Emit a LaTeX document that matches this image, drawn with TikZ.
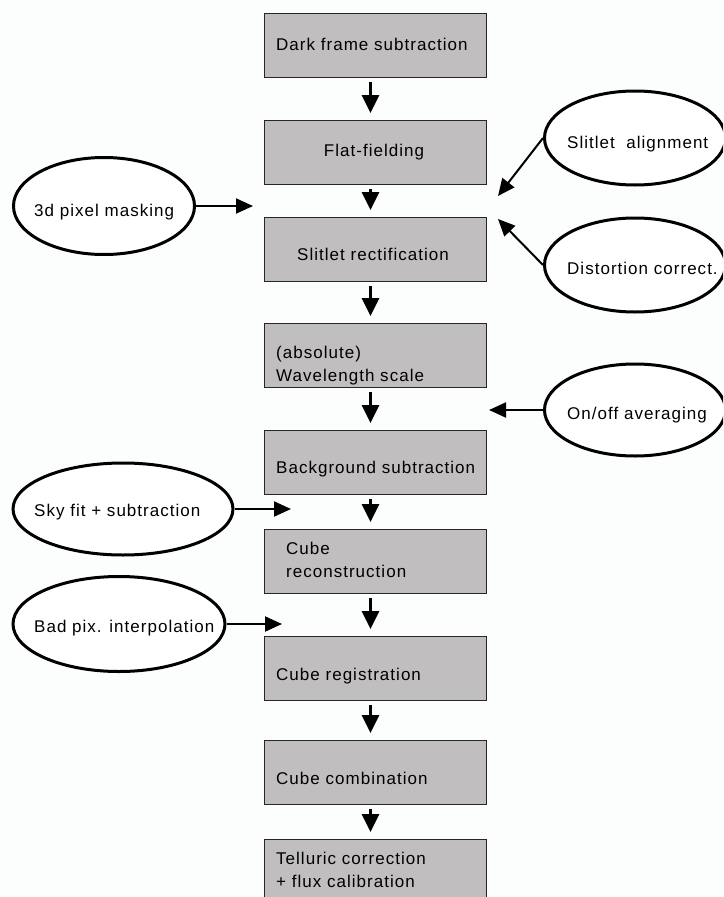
\documentclass[tikz,border=0pt]{standalone}
\usepackage{fontspec}
\setmainfont{Liberation Sans}[LetterSpace=6]
\usetikzlibrary{shapes.geometric,arrows.meta}
\definecolor{boxgray}{RGB}{192,190,191}
\definecolor{bgcol}{RGB}{252,254,254}
\begin{document}
\begin{tikzpicture}[x=1pt,y=-1pt,
  box/.style={draw=black!85, line width=1pt, fill=boxgray, minimum width=222pt, minimum height=64pt, inner sep=0pt, anchor=north west},
  lbl/.style={font=\fontsize{17}{20}\selectfont, inner sep=0pt},
  oval/.style={ellipse, draw=black, line width=3pt, fill=white, inner sep=0pt},
  flow/.style={line width=3pt, -{Triangle[width=17pt,length=18pt]}},
  side/.style={line width=2pt, -{Triangle[width=15pt,length=17pt]}}
]
\useasboundingbox (0,0) rectangle (723,897);
\clip (0,0) rectangle (723,897);
\fill[bgcol] (0,0) rectangle (723,897);

% process boxes
\node[box] (b1) at (264,13) {};
\node[box] (b2) at (264,120) {};
\node[box] (b3) at (264,217) {};
\node[box] (b4) at (264,323) {};
\node[box] (b5) at (264,430) {};
\node[box] (b6) at (264,529) {};
\node[box] (b7) at (264,636) {};
\node[box] (b8) at (264,740) {};
\node[box] (b9) at (264,839) {};

% box labels
\node[lbl, anchor=base west] (t1) at (276,50) {Dark frame subtraction};
\node[lbl, anchor=base] (t2) at (374,156) {Flat-fielding};
\node[lbl, anchor=base west] (t3) at (297,260) {Slitlet rectification};
\node[lbl, anchor=base west] (t4a) at (276,358) {(absolute)};
\node[lbl, anchor=base west] (t4b) at (276,381) {Wavelength scale};
\node[lbl, anchor=base west] (t5) at (276,473) {Background subtraction};
\node[lbl, anchor=base west] (t6a) at (286,554) {Cube};
\node[lbl, anchor=base west] (t6b) at (286,577) {reconstruction};
\node[lbl, anchor=base west] (t7) at (276,680) {Cube registration};
\node[lbl, anchor=base west] (t8) at (276,784) {Cube combination};
\node[lbl, anchor=base west] (t9a) at (276,864) {Telluric correction};
\node[lbl, anchor=base west] (t9b) at (276,887) {+ flux calibration};

% flow arrows
\foreach \a/\b in {b1/b2,b2/b3,b3/b4,b4/b5,b5/b6,b6/b7,b7/b8,b8/b9}
  \draw[flow] ([shift={(-5pt,-4pt)}]\a.south) -- ([shift={(-5pt,7pt)}]\b.north);

% ellipses
\node[oval, minimum width=181pt, minimum height=97pt] (mask) at (104,206) {};
\node[oval, minimum width=220pt, minimum height=92pt] (sky) at (123,509) {};
\node[oval, minimum width=212pt, minimum height=95pt] (bad) at (119,624) {};
\node[oval, minimum width=181pt, minimum height=94pt] (align) at (635,138) {};
\node[oval, minimum width=181pt, minimum height=94pt] (dist) at (635,265) {};
\node[oval, minimum width=181pt, minimum height=92pt] (onoff) at (635,410) {};

% ellipse labels
\node[lbl, anchor=base west] (lmask) at (34,216) {3d pixel masking};
\node[lbl, anchor=base west] (lsky) at (34,516) {Sky fit + subtraction};
\node[lbl, anchor=base west] (lbad) at (34,632) {Bad pix. interpolation};
\node[lbl, anchor=base west] (lalign) at (567,148) {Slitlet~ alignment};
\node[lbl, anchor=base west] (ldist) at (567,274) {Distortion correct.};
\node[lbl, anchor=base west] (lonoff) at (567,419) {On/off averaging};

% side arrow targets
\coordinate (pmask) at (253,206);
\coordinate (psky) at (291,509);
\coordinate (pbad) at (282,624);
\coordinate (palign) at (498,196);
\coordinate (pdist) at (498,219);
\coordinate (ponoff) at (489,410);

\draw[side] (mask.east) -- (pmask);
\draw[side] (sky.east) -- (psky);
\draw[side] (bad.east) -- (pbad);
\draw[side] (align.west) -- (palign);
\draw[side] (dist.west) -- (pdist);
\draw[side] (onoff.west) -- (ponoff);
\end{tikzpicture}
\end{document}
